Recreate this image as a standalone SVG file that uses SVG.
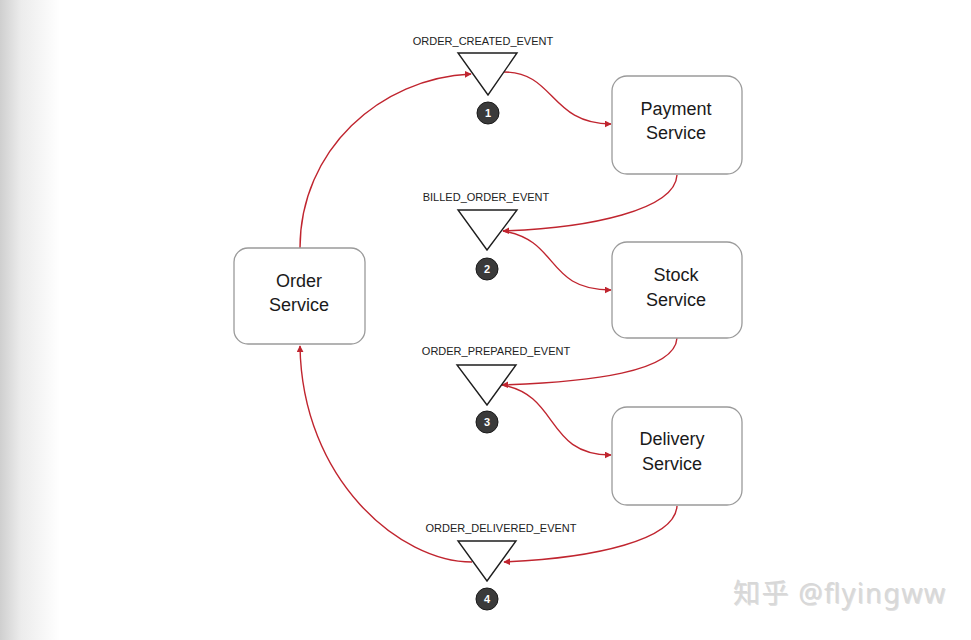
<svg xmlns="http://www.w3.org/2000/svg" width="971" height="640" viewBox="0 0 971 640">
<defs>
<linearGradient id="edge" x1="0" y1="0" x2="1" y2="0">
<stop offset="0" stop-color="#cfcfcf"/>
<stop offset="0.35" stop-color="#ececec"/>
<stop offset="1" stop-color="#ffffff"/>
</linearGradient>
<marker id="arr" viewBox="0 0 10 10" refX="9" refY="5" markerWidth="7" markerHeight="7" orient="auto" markerUnits="userSpaceOnUse">
<path d="M0,0 L10,5 L0,10 z" fill="#c0252f"/>
</marker>
<style>
.box{fill:#ffffff;stroke:#9a9a9a;stroke-width:1.3}
.lbl{font-family:"Liberation Sans",Arial,sans-serif;font-size:18px;fill:#1a1a1a;text-anchor:middle}
.ev{font-family:"Liberation Sans",Arial,sans-serif;font-size:11px;fill:#222;text-anchor:middle}
.tri{fill:#ffffff;stroke:#1e1e1e;stroke-width:1.4;stroke-linejoin:miter}
.num{fill:#3a3a3a;stroke:#1a1a1a;stroke-width:1}
.numt{font-family:"Liberation Sans",Arial,sans-serif;font-size:11px;font-weight:bold;fill:#ffffff;text-anchor:middle}
.con{fill:none;stroke:#c0252f;stroke-width:1.4}
.wm{font-family:"Noto Sans","Noto Sans CJK SC",sans-serif;font-size:27px}
</style>
</defs>
<rect x="0" y="0" width="971" height="640" fill="#ffffff"/>
<rect x="0" y="0" width="60" height="640" fill="url(#edge)"/>

<g id="connectors">
<path class="con" d="M300,248 C300,150 380,78 471,74" marker-end="url(#arr)"/>
<path class="con" d="M504,72 C555,72 550,124 611,124" marker-end="url(#arr)"/>
<path class="con" d="M677,175 C675,210 590,228 503,231" marker-end="url(#arr)"/>
<path class="con" d="M503,231 C560,240 545,290 611,290" marker-end="url(#arr)"/>
<path class="con" d="M677,338 C675,372 590,382 502,385" marker-end="url(#arr)"/>
<path class="con" d="M502,385 C560,395 545,455 611,455" marker-end="url(#arr)"/>
<path class="con" d="M677,506 C675,540 595,558 504,562" marker-end="url(#arr)"/>
<path class="con" d="M472,562 C400,562 302,480 300,346" marker-end="url(#arr)"/>
</g>

<g id="order">
<rect class="box" x="234" y="248" width="131" height="96" rx="14"/>
<text class="lbl" x="299" y="287">Order</text>
<text class="lbl" x="299" y="311">Service</text>
</g>
<g id="payment">
<rect class="box" x="612" y="76" width="130" height="98" rx="15"/>
<text class="lbl" x="676" y="115">Payment</text>
<text class="lbl" x="676" y="139">Service</text>
</g>
<g id="stock">
<rect class="box" x="612" y="242" width="130" height="96" rx="15"/>
<text class="lbl" x="676" y="281">Stock</text>
<text class="lbl" x="676" y="306">Service</text>
</g>
<g id="delivery">
<rect class="box" x="612" y="407" width="130" height="98" rx="15"/>
<text class="lbl" x="672" y="445">Delivery</text>
<text class="lbl" x="672" y="470">Service</text>
</g>

<g id="event1">
<text class="ev" x="483" y="45">ORDER_CREATED_EVENT</text>
<polygon class="tri" points="458,53 517,53 488,95"/>
<circle class="num" cx="488" cy="113" r="11"/>
<text class="numt" x="488" y="117">1</text>
</g>
<g id="event2">
<text class="ev" x="486" y="201">BILLED_ORDER_EVENT</text>
<polygon class="tri" points="458,210 517,210 487,250"/>
<circle class="num" cx="487" cy="269" r="11"/>
<text class="numt" x="487" y="273">2</text>
</g>
<g id="event3">
<text class="ev" x="496" y="355">ORDER_PREPARED_EVENT</text>
<polygon class="tri" points="457,365 516,365 487,405"/>
<circle class="num" cx="487" cy="422" r="11"/>
<text class="numt" x="487" y="426">3</text>
</g>
<g id="event4">
<text class="ev" x="501" y="532">ORDER_DELIVERED_EVENT</text>
<polygon class="tri" points="458,541 516,541 487,581"/>
<circle class="num" cx="487" cy="599" r="11"/>
<text class="numt" x="487" y="603">4</text>
</g>

<text class="wm" x="734" y="604" fill="#9a9a9a" opacity="0.3" textLength="212">知乎 @flyingww</text>
<text class="wm" x="733" y="603" fill="#d8d8d8" textLength="212">知乎 @flyingww</text>
</svg>
